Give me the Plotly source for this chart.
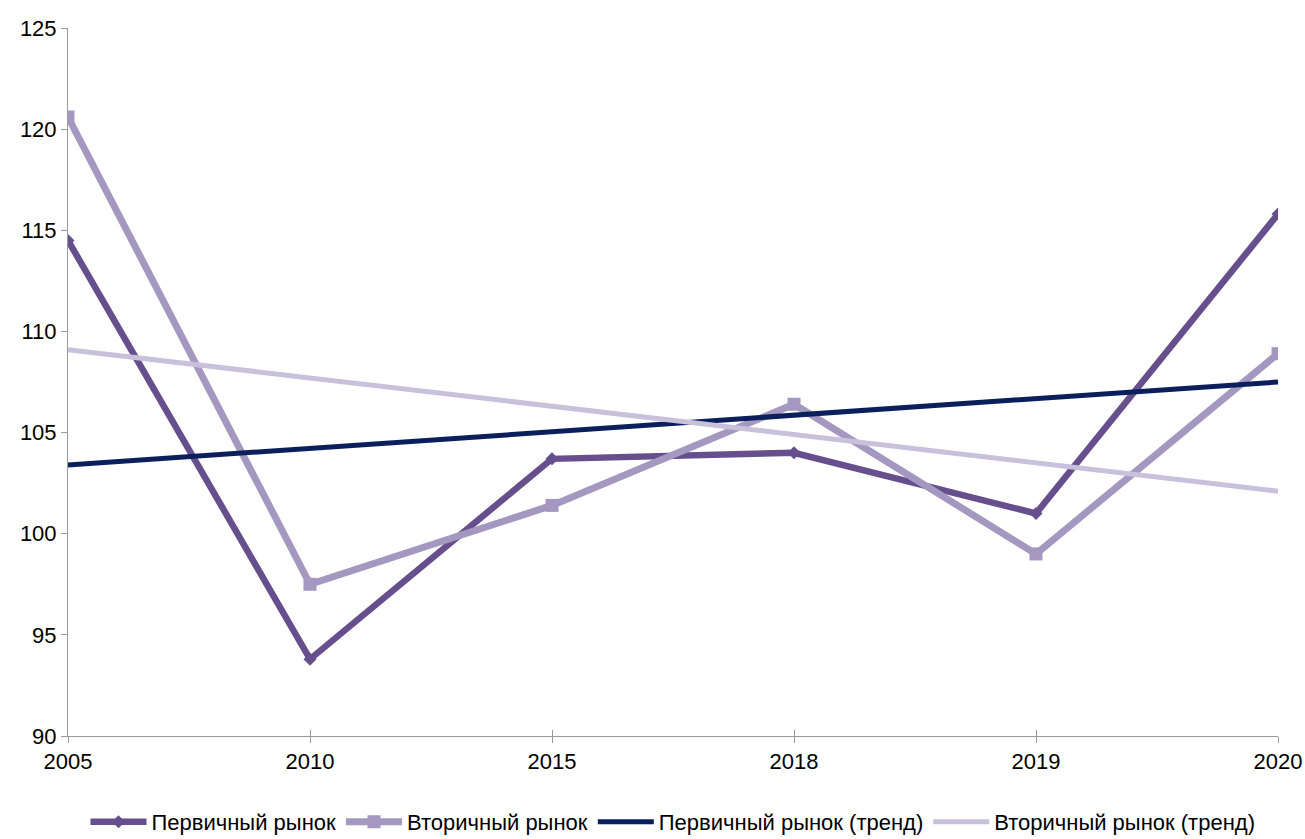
import plotly.graph_objects as go

years = ["2005", "2010", "2015", "2018", "2019", "2020"]
primary = [114.5, 93.8, 103.7, 104.0, 101.0, 115.8]
secondary = [120.6, 97.5, 101.4, 106.4, 99.0, 108.9]
trend_years = ["2005", "2020"]
primary_trend = [103.4, 107.5]
secondary_trend = [109.1, 102.1]
y_ticks = [90, 95, 100, 105, 110, 115, 120, 125]

FONT = "Liberation Sans, Arial, sans-serif"
FS = 22

fig = go.Figure()
fig.add_trace(go.Scatter(x=years, y=primary, name="Первичный рынок", mode="lines+markers",
                         line=dict(color="#674E8D", width=6.5),
                         marker=dict(symbol="diamond", size=10, color="#674E8D")))
fig.add_trace(go.Scatter(x=years, y=secondary, name="Вторичный рынок", mode="lines+markers",
                         line=dict(color="#A498C0", width=7),
                         marker=dict(symbol="square", size=13, color="#A498C0")))
fig.add_trace(go.Scatter(x=trend_years, y=primary_trend, name="Первичный рынок (тренд)", mode="lines",
                         line=dict(color="#0B1F5C", width=5)))
fig.add_trace(go.Scatter(x=trend_years, y=secondary_trend, name="Вторичный рынок (тренд)", mode="lines",
                         line=dict(color="#C9C0DC", width=5)))
# invisible trace to hold inside ticks on overlay x axis
fig.add_trace(go.Scatter(x=years, y=primary, xaxis="x2", mode="lines", showlegend=False,
                         hoverinfo="skip", line=dict(width=0), opacity=0))

axis_color = "#9A9A9A"
fig.update_layout(
    width=1305, height=839,
    margin=dict(l=68, r=27, t=28, b=103, autoexpand=False),
    paper_bgcolor="white", plot_bgcolor="white",
    font=dict(family=FONT, size=FS, color="black"),
    xaxis=dict(type="category", categoryorder="array", categoryarray=years,
               range=[0, 5], showgrid=False, zeroline=False,
               showline=True, linecolor=axis_color, linewidth=1,
               ticks="outside", ticklen=6, tickcolor=axis_color, tickwidth=1,
               tickfont=dict(family=FONT, size=FS)),
    xaxis2=dict(type="category", categoryorder="array", categoryarray=years,
                range=[0, 5], overlaying="x", side="bottom", showgrid=False,
                zeroline=False, showline=False, showticklabels=False,
                ticks="inside", ticklen=6, tickcolor=axis_color, tickwidth=1),
    yaxis=dict(range=[90, 125], tickvals=y_ticks, showgrid=False, zeroline=False,
               showline=True, linecolor=axis_color, linewidth=1,
               ticks="outside", ticklen=6, tickcolor=axis_color, tickwidth=1,
               tickfont=dict(family=FONT, size=FS)),
    legend=dict(orientation="h", x=0.5, xanchor="center", y=-0.1215, yanchor="middle",
                font=dict(family=FONT, size=FS), itemwidth=56,
                bgcolor="rgba(0,0,0,0)", tracegroupgap=0),
    showlegend=True,
)

fig.write_html("out.html", config={"displayModeBar": False},
               post_script="document.body.style.margin='0px';document.body.style.overflow='hidden';")
